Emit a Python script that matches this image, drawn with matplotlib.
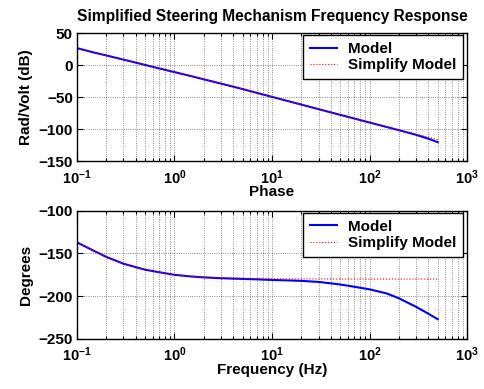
import numpy as np
import matplotlib
matplotlib.use("Agg")
import matplotlib.pyplot as plt
from matplotlib.ticker import FixedLocator, LogLocator, NullFormatter

plt.rcParams['font.family'] = ['Liberation Sans', 'DejaVu Sans']
plt.rcParams['font.weight'] = 'bold'
plt.rcParams['mathtext.fontset'] = 'custom'
plt.rcParams['mathtext.rm'] = 'Liberation Sans:bold'
plt.rcParams['mathtext.bf'] = 'Liberation Sans:bold'

# frequency points (Hz)
freq = [0.1, 0.15, 0.2, 0.3, 0.5, 0.7, 1, 1.5, 2, 3, 5, 7, 10, 15, 20, 30,
        50, 70, 100, 150, 200, 300, 400, 500]

# magnitude (dB)
mag_model = [26.5, 19.5, 15, 8.5, 0.2, -5.3, -11, -17.5, -22.3, -29, -37.5,
             -43.5, -49.7, -56.8, -61.8, -68.9, -77.8, -83.6, -89.8, -96.8,
             -101.8, -109, -115, -120.5]
mag_simple = [26.5, 19.5, 15, 8.5, 0.2, -5.3, -11, -17.5, -22.3, -29, -37.5,
              -43.5, -49.7, -56.8, -61.8, -68.9, -77.8, -83.6, -89.8, -96.8,
              -101.6, -108, -112.5, -116.5]

# phase (degrees)
ph_model = [-137, -147, -154, -162, -169, -172, -175, -177, -178, -179, -179.8,
            -180.3, -181, -181.6, -182.1, -183.3, -186.3, -189, -192, -196.8,
            -202.5, -212.5, -220.5, -227]
ph_simple = [-137, -147, -154, -162, -169, -172, -175, -176.8, -177.6, -178.4,
             -179, -179.3, -179.5, -179.7, -179.7, -179.8, -179.9, -179.9,
             -180, -180, -180, -180, -180, -180]

xticks = [0.1, 1, 10, 100, 1000]
xticklabels = [r'$\mathbf{10^{-1}}$', r'$\mathbf{10^{0}}$', r'$\mathbf{10^{1}}$',
               r'$\mathbf{10^{2}}$', r'$\mathbf{10^{3}}$']

fig = plt.figure(figsize=(4.84, 3.89), dpi=100)
ax1 = fig.add_axes([0.159, 0.586, 0.806, 0.329])
ax2 = fig.add_axes([0.159, 0.129, 0.806, 0.329])


def style(ax, yticks):
    ax.set_xscale('log')
    ax.set_xlim(0.1, 1000)
    ax.xaxis.set_major_locator(FixedLocator(xticks))
    ax.set_xticklabels(xticklabels)
    ax.xaxis.set_minor_locator(LogLocator(base=10, subs=np.arange(2, 10)))
    ax.xaxis.set_minor_formatter(NullFormatter())
    ax.set_ylim(yticks[0], yticks[-1])
    ax.set_yticks(yticks)
    ax.tick_params(which='both', direction='in', top=True, right=True, width=0.8)
    ax.tick_params(axis='y', labelsize=11, pad=3)
    ax.tick_params(axis='x', labelsize=10.5, pad=5)
    ax.tick_params(which='major', length=4)
    ax.tick_params(which='minor', length=2)
    ax.grid(True, which='major', color='black', linestyle=':', linewidth=0.6, alpha=0.6)
    ax.grid(True, which='minor', axis='x', color='black', linestyle=':', linewidth=0.6, alpha=0.6)
    for s in ax.spines.values():
        s.set_linewidth(1.0)


ax1.plot(freq, mag_model, color='blue', lw=1.5, label='Model')
ax1.plot(freq, mag_simple, color='red', lw=0.8, ls=':', label='Simplify Model')
style(ax1, [-150, -100, -50, 0, 50])
ax1.set_title('Simplified Steering Mechanism Frequency Response', fontsize=11.2,
              fontweight='bold', pad=9)
ax1.set_ylabel('Rad/Volt (dB)', fontsize=11, fontweight='bold', labelpad=4)
ax1.set_xlabel('Phase', fontsize=11, fontweight='bold', labelpad=-1)

ax2.plot(freq, ph_model, color='blue', lw=1.5, label='Model')
ax2.plot(freq, ph_simple, color='red', lw=0.8, ls=':', label='Simplify Model')
style(ax2, [-250, -200, -150, -100])
ax2.set_ylabel('Degrees', fontsize=11, fontweight='bold', labelpad=4)
ax2.set_xlabel('Frequency (Hz)', fontsize=11, fontweight='bold', labelpad=-1)

for ax in (ax1, ax2):
    leg = ax.legend(loc='upper right', bbox_to_anchor=(0.99, 0.985), fontsize=11,
                    fancybox=False, edgecolor='black', framealpha=1,
                    borderaxespad=0, handlelength=1.8, handletextpad=0.7,
                    borderpad=0.45, labelspacing=0.15)
    leg.get_frame().set_linewidth(1.0)

fig.savefig('out.png', dpi=100)
